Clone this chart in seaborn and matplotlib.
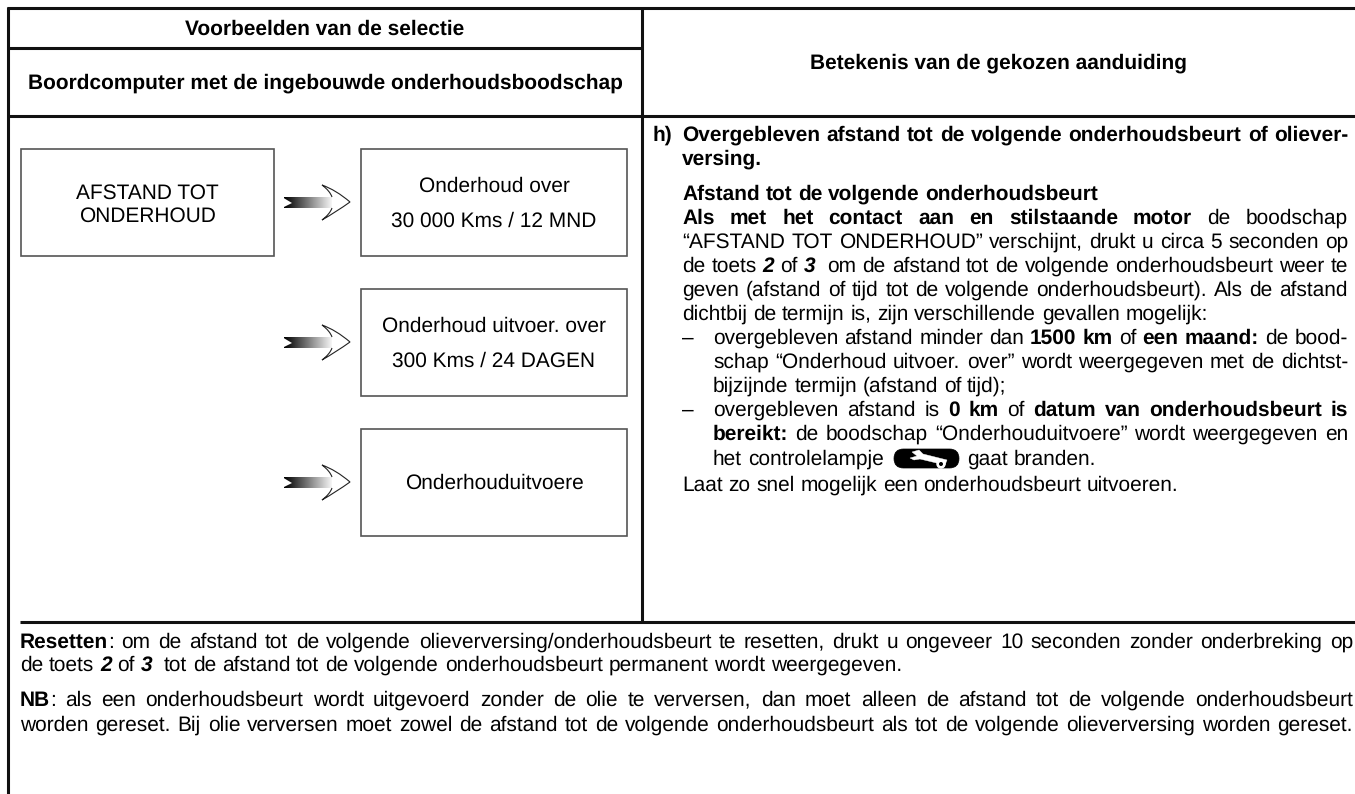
import re
import math
import numpy as np
import matplotlib
matplotlib.use("Agg")
import matplotlib.pyplot as plt
import seaborn as sns
from matplotlib.patches import Rectangle, FancyBboxPatch, PathPatch, Polygon, Circle
from matplotlib.path import Path
from matplotlib.font_manager import FontProperties

sns.set_theme(style="white")
plt.rcParams['font.family'] = ['Liberation Sans', 'DejaVu Sans']
plt.rcParams['text.color'] = 'black'
plt.rcParams['text.hinting'] = 'no_hinting'

FS = 15

# **x** bold, //x// bold italic
header_left = ["Voorbeelden van de selectie", "Boordcomputer met de ingebouwde onderhoudsboodschap"]
header_right = "Betekenis van de gekozen aanduiding"
box_first = ["AFSTAND TOT", "ONDERHOUD"]
box_texts = [
    ["Onderhoud over", "30 000 Kms / 12 MND"],
    ["Onderhoud uitvoer. over", "300 Kms / 24 DAGEN"],
    ["Onderhouduitvoere"],
]
right_lines = [
    # x, baseline, justified, text
    (653, 141, False, "**h)**"),
    (682, 141, True, "**Overgebleven afstand tot de volgende onderhoudsbeurt of oliever-**"),
    (682, 165, False, "**versing.**"),
    (682, 200, False, "**Afstand tot de volgende onderhoudsbeurt**"),
    (682, 224, True, "**Als met het contact aan en stilstaande motor** de boodschap"),
    (682, 248, True, "“AFSTAND TOT ONDERHOUD” verschijnt, drukt u circa 5 seconden op"),
    (682, 272, True, "de toets //2// of //3//  om de afstand tot de volgende onderhoudsbeurt weer te"),
    (682, 296, True, "geven (afstand of tijd tot de volgende onderhoudsbeurt). Als de afstand"),
    (682, 320, False, "dichtbij de termijn is, zijn verschillende gevallen mogelijk:"),
    (682, 344, False, "–"),
    (713, 344, True, "overgebleven afstand minder dan **1500 km** of **een maand:** de bood-"),
    (713, 368, True, "schap “Onderhoud uitvoer. over” wordt weergegeven met de dichtst-"),
    (713, 392, False, "bijzijnde termijn (afstand of tijd);"),
    (682, 416, False, "–"),
    (713, 416, True, "overgebleven afstand is **0 km** of **datum van onderhoudsbeurt is**"),
    (713, 440, True, "**bereikt:** de boodschap “Onderhouduitvoere” wordt weergegeven en"),
    (713, 465, False, "het controlelampje"),
    (967, 465, False, "gaat branden."),
    (682, 491, False, "Laat zo snel mogelijk een onderhoudsbeurt uitvoeren."),
]
bottom_lines = [
    (20, 648, True, "**Resetten**: om de afstand tot de volgende olieverversing/onderhoudsbeurt te resetten, drukt u ongeveer 10 seconden zonder onderbreking op"),
    (20, 671, False, "de toets //2// of //3//  tot de afstand tot de volgende onderhoudsbeurt permanent wordt weergegeven."),
    (20, 706, True, "**NB**: als een onderhoudsbeurt wordt uitgevoerd zonder de olie te verversen, dan moet alleen de afstand tot de volgende onderhoudsbeurt"),
    (20, 731, True, "worden gereset. Bij olie verversen moet zowel de afstand tot de volgende onderhoudsbeurt als tot de volgende olieverversing worden gereset."),
]

fig = plt.figure(figsize=(13.55, 7.94), dpi=100)
ax = fig.add_axes([0, 0, 1, 1])
ax.set_xlim(0, 1355)
ax.set_ylim(794, 0)
ax.axis('off')
renderer = fig.canvas.get_renderer()


def style_of(tag):
    if tag == '**':
        return {'weight': 'bold'}
    if tag == '//':
        return {'weight': 'bold', 'style': 'italic'}
    return {}


def split_words(line):
    # an empty word stays in the list, a double space gets two gaps
    words = [[]]
    for part in re.split(r'(\*\*.*?\*\*|//.*?//)', line):
        if not part:
            continue
        tag = part[:2] if part[:2] in ('**', '//') else ''
        body = part[2:-2] if tag else part
        bits = body.split(' ')
        for i, bit in enumerate(bits):
            if i > 0:
                words.append([])
            if bit:
                words[-1].append((bit, style_of(tag)))
    return words


def text_w(s, st):
    # advance width, the bars keep the side bearings in the measure
    prop = FontProperties(family='Liberation Sans', size=FS, **st)
    full = renderer.get_text_width_height_descent('|' + s + '|', prop, False)[0]
    bars = renderer.get_text_width_height_descent('||', prop, False)[0]
    return full - bars


def word_y(s, st, y):
    # agg places the bitmap from its bottom edge, this undoes its rounding
    # so the words of a line stay on one baseline
    prop = FontProperties(family='Liberation Sans', size=FS, **st)
    _, h, d = renderer.get_text_width_height_descent(s, prop, False)
    return y - d + math.trunc(h) - math.floor(h - d)


def draw_line(x, y, line, justify, right):
    words = split_words(line)
    sizes = [sum(text_w(s, st) for s, st in w) for w in words]
    gap = FS * 100 / 72 * 0.278
    if justify:
        gap = (right - x - sum(sizes)) / (len(words) - 1)
    for w, size in zip(words, sizes):
        cx = x
        for s, st in w:
            ax.text(cx, word_y(s, st, y), s, fontsize=FS, va='baseline', ha='left', color='black', **st)
            cx += text_w(s, st)
        x += size + gap


def arrow(y):
    tail = [(282, y - 6), (332, y - 6), (332, y + 5), (282, y + 5), (292, y)]
    shaft = Polygon(tail, closed=True, fc='none', ec='none')
    ax.add_patch(shaft)
    im = ax.imshow(np.linspace(0, 1, 64).reshape(1, -1), cmap='gray', aspect='auto',
                   extent=(284, 334, y + 6, y - 7), vmin=0, vmax=1, zorder=2)
    im.set_clip_path(shaft)
    verts = [(332, y - 6), (330, y - 12), (322, y - 18), (336, y - 13), (350, y - 1),
             (336, y + 9), (322, y + 17), (330, y + 11), (332, y + 5)]
    codes = [Path.MOVETO, Path.CURVE3, Path.CURVE3, Path.CURVE3, Path.CURVE3,
             Path.CURVE3, Path.CURVE3, Path.CURVE3, Path.CURVE3]
    ax.add_patch(PathPatch(Path(verts, codes), fc='white', ec='#222222', lw=0.8, zorder=3))


def wrench():
    ax.add_patch(FancyBboxPatch((894, 449), 65, 19, boxstyle="round,pad=0,rounding_size=9.5",
                                fc='black', ec='black', lw=0.5, zorder=3))
    ax.add_patch(Polygon([(912, 452), (919, 450), (923, 454), (947, 460), (945, 465),
                          (920, 459), (914, 460), (910, 458), (917, 456)],
                         closed=True, fc='white', ec='white', lw=0.3, zorder=4))
    ax.add_patch(Circle((941, 464), 4, fc='white', ec='white', zorder=4))
    ax.add_patch(Circle((941, 464), 1.3, fc='black', ec='black', zorder=5))


# table rules
rule = dict(color='#111111', lw=2.2, solid_capstyle='butt')
ax.plot([7, 1355], [8, 8], **rule)
ax.plot([8, 8], [7, 794], **rule)
ax.plot([642, 642], [8, 622], **rule)
ax.plot([8, 642], [47.5, 47.5], **rule)
ax.plot([8, 1355], [115.5, 115.5], **rule)
ax.plot([20, 1355], [622, 622], **rule)

# headers
ax.text(325, 35, header_left[0], fontsize=FS, weight='bold', ha='center', va='baseline')
ax.text(325, 89, header_left[1], fontsize=FS, weight='bold', ha='center', va='baseline')
ax.text(998, 69, header_right, fontsize=FS, weight='bold', ha='center', va='baseline')

# boxes on the left side
ax.add_patch(Rectangle((21, 149), 253, 107, fc='white', ec='#555555', lw=1.2))
ax.text(147, 199, box_first[0], fontsize=FS, ha='center', va='baseline')
ax.text(147, 222, box_first[1], fontsize=FS, ha='center', va='baseline')

for top, lines in zip([149, 289, 429], box_texts):
    ax.add_patch(Rectangle((361, top), 266, 107, fc='white', ec='#555555', lw=1.2))
    arrow(top + 54)
    if len(lines) == 2:
        ax.text(494, top + 43, lines[0], fontsize=FS, ha='center', va='baseline')
        ax.text(494, top + 78, lines[1], fontsize=FS, ha='center', va='baseline')
    else:
        ax.text(494, top + 60, lines[0], fontsize=FS, ha='center', va='baseline')

# right column text
for x, y, just, line in right_lines:
    draw_line(x, y, line, just, 1348)
wrench()

# bottom notes
for x, y, just, line in bottom_lines:
    draw_line(x, y, line, just, 1353)

ax.set_xlim(0, 1355)
ax.set_ylim(794, 0)
fig.savefig("out.png", dpi=100)
